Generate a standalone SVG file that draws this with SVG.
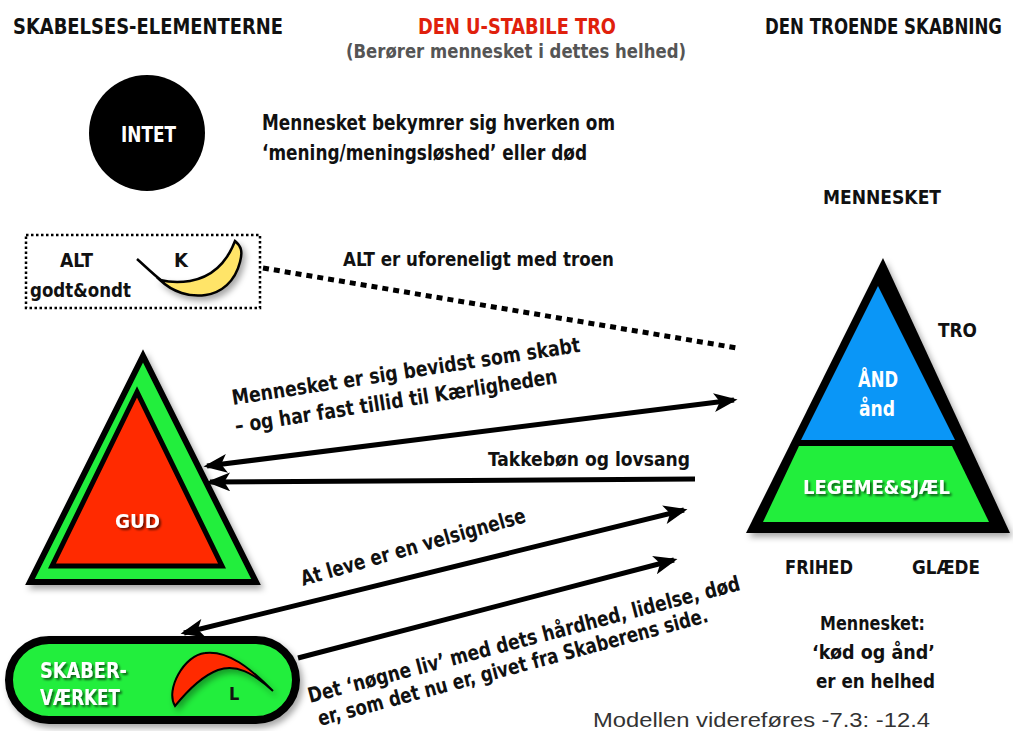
<svg xmlns="http://www.w3.org/2000/svg" width="1013" height="731" viewBox="0 0 1013 731">
<style>
.t{font-family:"Liberation Sans Narrow","DejaVu Sans Condensed","Liberation Sans",sans-serif;font-weight:bold;fill:#111;}
.w{fill:#fff;}
.c{text-anchor:middle;}
.ln{stroke:#000;stroke-width:5;fill:none;}
</style>
<defs>
<marker id="ah" viewBox="0 0 20 16" refX="17" refY="8" markerWidth="24" markerHeight="19" markerUnits="userSpaceOnUse" orient="auto-start-reverse">
<path d="M0,0 L20,8 L0,16 L5,8 z" fill="#000"/>
</marker>
<filter id="sh" x="-20%" y="-20%" width="150%" height="150%">
<feDropShadow dx="3" dy="4" stdDeviation="3" flood-color="#000" flood-opacity="0.35"/>
</filter>
<filter id="tsh" x="-10%" y="-20%" width="130%" height="150%">
<feDropShadow dx="2" dy="2" stdDeviation="1.2" flood-color="#000" flood-opacity="0.6"/>
</filter>
</defs>
<rect width="1013" height="731" fill="#fff"/>

<g id="headings">
<text class="t" x="13" y="34" font-size="21" textLength="270" lengthAdjust="spacingAndGlyphs">SKABELSES-ELEMENTERNE</text>
<text class="t" x="418" y="34" font-size="21" style="fill:#e0200c" textLength="198" lengthAdjust="spacingAndGlyphs">DEN U-STABILE TRO</text>
<text class="t" x="346" y="58" font-size="19" style="fill:#555" textLength="340" lengthAdjust="spacingAndGlyphs">(Berører mennesket i dettes helhed)</text>
<text class="t" x="0" y="0" font-size="18.5" transform="translate(765,34) scale(1,1.13)" textLength="237" lengthAdjust="spacingAndGlyphs">DEN TROENDE SKABNING</text>
</g>

<g id="intet">
<circle cx="147" cy="133" r="58" fill="#000"/>
<text class="t w" x="121" y="142" font-size="22" textLength="55" lengthAdjust="spacingAndGlyphs">INTET</text>
</g>
<g id="intet-label">
<text class="t" x="262" y="130" font-size="21" textLength="353" lengthAdjust="spacingAndGlyphs">Mennesket bekymrer sig hverken om</text>
<text class="t" x="262" y="160" font-size="21" textLength="325" lengthAdjust="spacingAndGlyphs">‘mening/meningsløshed’ eller død</text>
</g>

<g id="alt">
<rect x="26" y="235" width="234" height="73" fill="#fff" stroke="#000" stroke-width="2.5" stroke-dasharray="2.5 2.5"/>
<text class="t" x="60" y="267" font-size="20" textLength="33" lengthAdjust="spacingAndGlyphs">ALT</text>
<text class="t" x="30" y="297" font-size="20" textLength="101" lengthAdjust="spacingAndGlyphs">godt&amp;ondt</text>
<text class="t" x="174" y="267" font-size="20">K</text>
<path d="M137,259 C146,267 153,274 162,281" stroke="#000" stroke-width="2.5" fill="none"/>
<path d="M160,280 C185,304 230,302 240,262 C243,251 241,246 235,241 C227,262 212,277 190,281 C178,283 168,282 160,280 Z" fill="#ffe468" stroke="#000" stroke-width="2.5" filter="url(#sh)"/>
</g>
<g id="alt-label">
<text class="t" x="343" y="266" font-size="20" textLength="271" lengthAdjust="spacingAndGlyphs">ALT er uforeneligt med troen</text>
</g>

<g id="gud">
<polygon points="143,356 30,582 256,582" fill="#22ee3c" stroke="#000" stroke-width="6" filter="url(#sh)"/>
<polygon points="137,392 52,566 222,566" fill="#ff2a00" stroke="#000" stroke-width="5"/>
<text class="t w" x="115" y="528" font-size="20" textLength="45" lengthAdjust="spacingAndGlyphs" filter="url(#tsh)">GUD</text>
</g>

<g id="skaber">
<rect x="9" y="640" width="287" height="80" rx="40" fill="#22ee3c" stroke="#000" stroke-width="8" filter="url(#sh)"/>
<text class="t w" x="40" y="678" font-size="21" textLength="87" lengthAdjust="spacingAndGlyphs" filter="url(#tsh)">SKABER-</text>
<text class="t w" x="40" y="705" font-size="21" textLength="80" lengthAdjust="spacingAndGlyphs" filter="url(#tsh)">VÆRKET</text>
<path d="M175,706 C165,690 184,655 205,653 C228,650 250,668 273,691 C252,672 236,664 218,670 C202,676 188,690 175,706 Z" fill="#ff2a00" stroke="#000" stroke-width="2" filter="url(#sh)"/>
<text class="t" x="229" y="700" font-size="18">L</text>
</g>

<g id="mennesket">
<text class="t" x="823" y="204" font-size="20" textLength="118" lengthAdjust="spacingAndGlyphs">MENNESKET</text>
<polygon points="883,258 746,533 1010,533" fill="#000" filter="url(#sh)"/>
<polygon points="878,286 801,440 955,440" fill="#0a96f7"/>
<polygon points="799,446 952,446 989,522 763,522" fill="#22ee3c"/>
<text class="t w" x="858" y="387" font-size="21" textLength="40" lengthAdjust="spacingAndGlyphs">ÅND</text>
<text class="t w" x="859" y="416" font-size="21" textLength="36" lengthAdjust="spacingAndGlyphs">ånd</text>
<text class="t w" x="803" y="494" font-size="20" textLength="147" lengthAdjust="spacingAndGlyphs" filter="url(#tsh)">LEGEME&amp;SJÆL</text>
<text class="t" x="938" y="337" font-size="20" textLength="39" lengthAdjust="spacingAndGlyphs">TRO</text>
<text class="t" x="785" y="574" font-size="20" textLength="68" lengthAdjust="spacingAndGlyphs">FRIHED</text>
<text class="t" x="912" y="574" font-size="20" textLength="68" lengthAdjust="spacingAndGlyphs">GLÆDE</text>
<text class="t" x="820" y="630" font-size="20" textLength="105" lengthAdjust="spacingAndGlyphs">Mennesket:</text>
<text class="t" x="812" y="659" font-size="20" textLength="123" lengthAdjust="spacingAndGlyphs">‘kød og ånd’</text>
<text class="t" x="816" y="688" font-size="20" textLength="119" lengthAdjust="spacingAndGlyphs">er en helhed</text>
</g>

<g id="connectors">
<line x1="263" y1="268" x2="737" y2="348" stroke="#000" stroke-width="5" stroke-dasharray="6 5"/>
<line class="ln" x1="207" y1="466" x2="734" y2="400" marker-start="url(#ah)" marker-end="url(#ah)"/>
<line class="ln" x1="695" y1="479" x2="210" y2="482" marker-end="url(#ah)"/>
<line class="ln" x1="184" y1="633" x2="684" y2="510" marker-start="url(#ah)" marker-end="url(#ah)"/>
<line class="ln" x1="298" y1="658" x2="674" y2="560" marker-end="url(#ah)"/>
</g>

<g id="connector-labels">
<text class="t" font-size="21" transform="translate(233,405) rotate(-8.7)" textLength="352" lengthAdjust="spacingAndGlyphs">Mennesket er sig bevidst som skabt</text>
<text class="t" font-size="21" transform="translate(236,433) rotate(-8.8)" textLength="326" lengthAdjust="spacingAndGlyphs">– og  har fast tillid til Kærligheden</text>
<text class="t" x="488" y="466" font-size="20" textLength="202" lengthAdjust="spacingAndGlyphs">Takkebøn og lovsang</text>
<text class="t" font-size="21" transform="translate(303,586) rotate(-16)" textLength="233" lengthAdjust="spacingAndGlyphs">At leve er en velsignelse</text>
<text class="t" font-size="21" transform="translate(310,703) rotate(-14.7)" textLength="446" lengthAdjust="spacingAndGlyphs">Det ‘nøgne liv’ med dets hårdhed, lidelse, død</text>
<text class="t" font-size="21" transform="translate(320,726) rotate(-15)" textLength="403" lengthAdjust="spacingAndGlyphs">er, som det nu er, givet fra Skaberens side.</text>
</g>

<g id="footer">
<text x="593" y="727" font-family="Liberation Sans, Arial, sans-serif" font-size="20" fill="#333" textLength="337" lengthAdjust="spacingAndGlyphs">Modellen videreføres -7.3: -12.4</text>
</g>
</svg>
